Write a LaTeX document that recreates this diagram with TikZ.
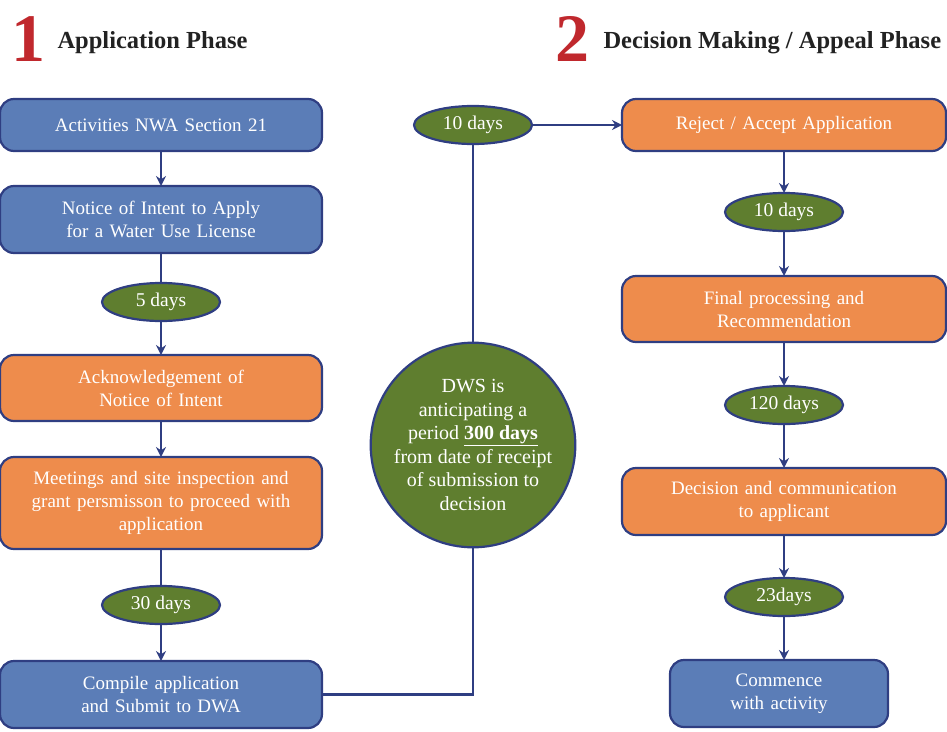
\documentclass[tikz,border=0pt]{standalone}
\usepackage{fontspec}
\setmainfont{Liberation Serif}
\usetikzlibrary{positioning, shapes.geometric, arrows.meta}
\definecolor{boxblue}{RGB}{91,125,183}
\definecolor{boxorange}{RGB}{238,140,76}
\definecolor{daygreen}{RGB}{95,126,47}
\definecolor{navy}{RGB}{47,62,130}
\definecolor{numred}{RGB}{192,40,45}
\definecolor{headgray}{RGB}{34,34,34}

\begin{document}
\begin{tikzpicture}[x=1pt, y=-1pt, >={Stealth[length=10pt,width=10pt]},
    stage/.style={draw=navy, line width=2.2pt, rounded corners=14pt, outer sep=0pt,
        text=white, align=center, text width=300pt, minimum width=322pt, inner sep=4pt,
        font=\fontsize{19}{23}\selectfont},
    bluebox/.style={stage, fill=boxblue},
    orangebox/.style={stage, fill=boxorange},
    days/.style={ellipse, draw=navy, line width=2.2pt, fill=daygreen, text=white, outer sep=0pt,
        minimum width=118pt, minimum height=38pt, inner sep=0pt, font=\fontsize{19.5}{23}\selectfont},
    phasenum/.style={text=numred, font=\fontsize{68}{68}\selectfont\bfseries},
    phasehead/.style={anchor=west, text=headgray, font=\fontsize{24.5}{29}\selectfont\bfseries},
    link/.style={draw=navy, line width=2.2pt}]
    \useasboundingbox (0,0) rectangle (947,731);

    % headings
    \node[phasenum] (num1) at (28,39) {1};
    \node[phasehead] (head1) at (54,43) {Application Phase};
    \node[phasenum] (num2) at (572,39) {2};
    \node[phasehead] (head2) at (600,43) {Decision Making / Appeal Phase};

    % application phase
    \node[bluebox, minimum height=52pt] (nwa) at (161,125) {Activities NWA Section 21};
    \node[bluebox, minimum height=67pt, below=35pt of nwa] (notice) {Notice of Intent to Apply\\for a Water Use License};
    \node[days, below=30pt of notice] (d5) {5 days};
    \node[orangebox, minimum height=66pt, below=34pt of d5] (ack) {Acknowledgement of\\Notice of Intent};
    \node[orangebox, minimum height=92pt, below=36pt of ack] (meet) {Meetings and site inspection and\\grant persmisson to proceed with\\application};
    \node[days, below=37pt of meet] (d30) {30 days};
    \node[bluebox, minimum height=67pt, below=37pt of d30] (compile) {Compile application\\and Submit to DWA};

    % middle
    \node[days] (d10) at (473,125) {10 days};
    \node[circle, draw=navy, line width=2.2pt, fill=daygreen, text=white, outer sep=0pt,
        minimum size=200pt, inner sep=0pt, align=center, font=\fontsize{20}{23.5}\selectfont]
        (dws) at (473,445) {DWS is\\anticipating a\\period \textbf{\underline{300 days}}\\from date of receipt\\of submission to\\decision};

    % decision making / appeal phase
    \node[orangebox, minimum height=52pt, minimum width=324pt] (decide) at (784,125) {Reject / Accept Application};
    \node[days, below=42pt of decide] (r10) {10 days};
    \node[orangebox, minimum height=66pt, minimum width=324pt, below=45pt of r10] (final) {Final processing and\\Recommendation};
    \node[days, below=44pt of final] (d120) {120 days};
    \node[orangebox, minimum height=67pt, minimum width=324pt, below=44pt of d120] (comm) {Decision and communication\\to applicant};
    \node[days, below=43pt of comm] (d23) {23days};
    \node[bluebox, minimum height=67pt, minimum width=218pt, text width=200pt, below=44pt of d23, xshift=-5pt] (commence) {Commence\\with activity};

    % connectors
    \draw[link, ->] (nwa) -- (notice);
    \draw[link] (notice) -- (d5);
    \draw[link, ->] (d5) -- (ack);
    \draw[link, ->] (ack) -- (meet);
    \draw[link] (meet) -- (d30);
    \draw[link, ->] (d30) -- (compile);
    \draw[link] (compile.east) -| (dws.south);
    \draw[link] (dws.north) -- (d10.south);
    \draw[link, ->] (d10.east) -- (decide.west);
    \draw[link, ->] (decide) -- (r10);
    \draw[link, ->] (r10) -- (final);
    \draw[link, ->] (final) -- (d120);
    \draw[link, ->] (d120) -- (comm);
    \draw[link, ->] (comm) -- (d23);
    \draw[link, ->] (d23.south) -- (d23.south |- commence.north);
\end{tikzpicture}
\end{document}
